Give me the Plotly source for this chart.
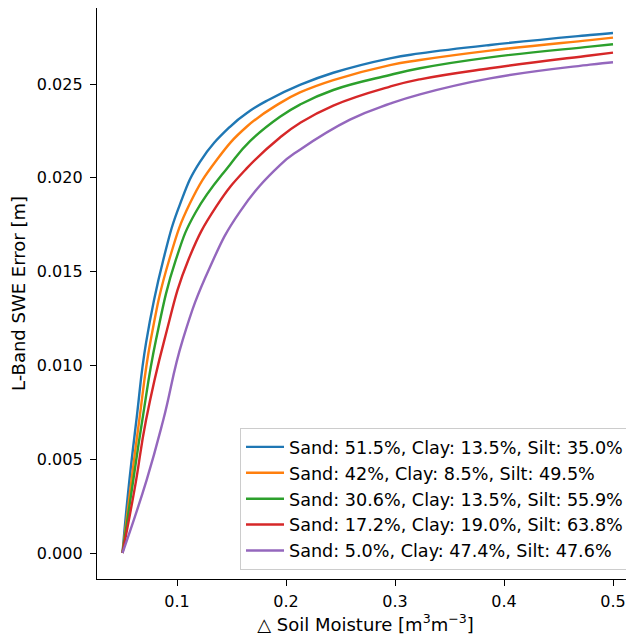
import plotly.graph_objects as go

labels = [
    "Sand: 51.5%, Clay: 13.5%, Silt: 35.0%",
    "Sand: 42%, Clay: 8.5%, Silt: 49.5%",
    "Sand: 30.6%, Clay: 13.5%, Silt: 55.9%",
    "Sand: 17.2%, Clay: 19.0%, Silt: 63.8%",
    "Sand: 5.0%, Clay: 47.4%, Silt: 47.6%",
]
colors = ["#1f77b4", "#ff7f0e", "#2ca02c", "#d62728", "#9467bd"]

blue_x = [0.05, 0.0553, 0.0630, 0.0716, 0.0874, 0.1028, 0.1211, 0.1486, 0.1670, 0.1838,
          0.2128, 0.2434, 0.2954, 0.3229, 0.3872, 0.4789, 0.5]
blue_y = [0.0, 0.00330, 0.00720, 0.01120, 0.01562, 0.01860, 0.02085, 0.02272, 0.02357, 0.02415,
          0.02495, 0.02560, 0.02637, 0.02663, 0.02708, 0.02761, 0.02772]

orange_x = [0.05, 0.0575, 0.0654, 0.0759, 0.0928, 0.1119, 0.1364, 0.1639, 0.1945, 0.2128,
            0.2434, 0.2954, 0.3229, 0.3872, 0.4789, 0.5]
orange_y = [0.0, 0.00354, 0.00709, 0.01135, 0.01562, 0.01864, 0.02095, 0.02272, 0.02398, 0.02455,
            0.02521, 0.02601, 0.02628, 0.02678, 0.02734, 0.02747]

green_x = [0.05, 0.0590, 0.0682, 0.0807, 0.0989, 0.1170, 0.1486, 0.1670, 0.1945, 0.2128,
           0.2434, 0.2954, 0.3229, 0.3872, 0.4789, 0.5]
green_y = [0.0, 0.00354, 0.00709, 0.01135, 0.01562, 0.01815, 0.02070, 0.02195, 0.02325, 0.02390,
           0.02468, 0.02548, 0.02584, 0.02642, 0.02699, 0.02712]

red_x = [0.05, 0.0615, 0.0716, 0.0884, 0.1104, 0.1364, 0.1639, 0.1945, 0.2128, 0.2434,
         0.2954, 0.3229, 0.3872, 0.4789, 0.5]
red_y = [0.0, 0.00354, 0.00709, 0.01135, 0.01562, 0.01850, 0.02050, 0.02215, 0.02292, 0.02385,
         0.02486, 0.02525, 0.02584, 0.02652, 0.02667]

purple_x = [0.05, 0.0722, 0.0874, 0.1052, 0.1303, 0.1578, 0.1945, 0.2128, 0.2587, 0.2954,
            0.3229, 0.3872, 0.4789, 0.5]
purple_y = [0.0, 0.00390, 0.00709, 0.01135, 0.01525, 0.01820, 0.02068, 0.02150, 0.02310, 0.02395,
            0.02445, 0.02530, 0.02603, 0.02616]

xs = [blue_x, orange_x, green_x, red_x, purple_x]
ys = [blue_y, orange_y, green_y, red_y, purple_y]

FONT = "DejaVu Sans"
TICK_FS = 16
LABEL_FS = 18
LEGEND_FS = 17.6
fig = go.Figure()
for lab, c, x, y in zip(labels, colors, xs, ys):
    fig.add_trace(go.Scatter(x=x, y=y, mode="lines", name=lab,
                             line=dict(color=c, width=2.4, shape="spline", smoothing=1.3)))

axis_common = dict(showgrid=False, zeroline=False, showline=True, linecolor="black",
                   linewidth=1.3, ticks="outside", ticklen=6, tickwidth=1.3,
                   tickcolor="black", automargin=False,
                   tickfont=dict(family=FONT, size=TICK_FS, color="black"))

fig.update_layout(
    width=626, height=631,
    margin=dict(l=89, r=0, t=0, b=60),
    plot_bgcolor="white", paper_bgcolor="white",
    font=dict(family=FONT, size=TICK_FS, color="black"),
    xaxis=dict(range=[0.02661, 0.51927], tickvals=[0.1, 0.2, 0.3, 0.4, 0.5],
               tickformat=".1f", mirror=True, ticklabelstandoff=2,
               title=dict(text="△ Soil Moisture [m<sup>3</sup>m<sup>−3</sup>]",
                          font=dict(family=FONT, size=LABEL_FS), standoff=3),
               **axis_common),
    yaxis=dict(range=[-0.001386, 0.029051], tickvals=[0, 0.005, 0.01, 0.015, 0.02, 0.025],
               tickformat=".3f", mirror=False, ticklabelstandoff=4,
               title=dict(text="L-Band SWE Error [m]", font=dict(family=FONT, size=LABEL_FS),
                          standoff=6),
               **axis_common),
    legend=dict(x=0.9907, y=0.0158, xanchor="right", yanchor="bottom",
                bgcolor="rgba(255,255,255,0.8)", bordercolor="#cccccc", borderwidth=1,
                font=dict(family=FONT, size=LEGEND_FS), tracegroupgap=0, itemwidth=38),
    showlegend=True,
)

fig.write_html("out.html")
